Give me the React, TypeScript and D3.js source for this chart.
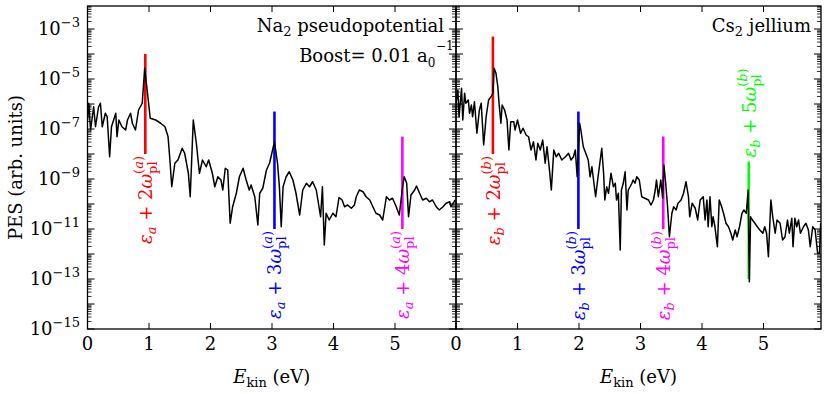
import React from 'react'
import * as d3 from 'd3'

// photoelectron spectra, kinetic energy (eV) and log10 of PES (arb. units)
const naEnergy = [
  0.00, 0.02, 0.05, 0.10, 0.13, 0.18, 0.21, 0.24, 0.29, 0.32, 0.36, 0.39, 0.46, 0.48, 0.51, 0.56,
  0.62, 0.65, 0.70, 0.73, 0.78, 0.83, 0.89, 0.93, 0.97, 1.02, 1.11, 1.19, 1.26, 1.31, 1.34, 1.37,
  1.42, 1.47, 1.54, 1.58, 1.64, 1.67, 1.72, 1.77, 1.82, 1.87, 1.93, 1.97, 2.03, 2.07, 2.12, 2.17,
  2.20, 2.24, 2.28, 2.32, 2.36, 2.42, 2.47, 2.53, 2.58, 2.63, 2.66, 2.72, 2.77, 2.80, 2.85, 2.91,
  2.96, 3.04, 3.09, 3.12, 3.15, 3.18, 3.23, 3.28, 3.34, 3.39, 3.45, 3.50, 3.56, 3.61, 3.66, 3.72,
  3.79, 3.82, 3.85, 3.88, 3.93, 3.99, 4.04, 4.09, 4.14, 4.18, 4.23, 4.29, 4.34, 4.37, 4.42, 4.48,
  4.53, 4.59, 4.64, 4.69, 4.75, 4.80, 4.86, 4.91, 4.96, 5.02, 5.07, 5.12, 5.15, 5.19, 5.22, 5.26,
  5.32, 5.35, 5.40, 5.45, 5.51, 5.56, 5.61, 5.67, 5.72, 5.78, 5.83, 5.89, 5.91, 5.98,
]
const naLogPes = [
  -6.64, -5.97, -7.04, -6.11, -6.91, -6.11, -5.97, -6.91, -6.37, -6.51, -8.11, -6.91, -6.37, -7.31, -6.64, -6.91,
  -7.04, -6.64, -6.37, -6.77, -7.04, -6.24, -5.97, -4.57, -5.44, -6.57, -6.64, -6.77, -6.91, -7.31, -8.24, -9.31,
  -8.37, -8.24, -7.77, -7.97, -8.77, -9.71, -6.64, -7.57, -8.77, -8.24, -8.51, -8.24, -8.77, -9.31, -8.91, -9.04,
  -9.44, -8.57, -8.64, -10.77, -10.11, -9.57, -8.91, -8.57, -9.04, -9.44, -9.24, -9.71, -10.84, -9.57, -9.37, -8.64,
  -8.37, -7.51, -8.37, -9.31, -10.91, -9.31, -8.91, -8.71, -9.04, -9.57, -10.44, -9.44, -9.17, -9.31, -9.11, -9.44,
  -10.51, -9.31, -11.64, -10.37, -10.64, -10.37, -10.51, -9.74, -9.84, -10.11, -10.04, -10.17, -10.04, -9.71, -9.44, -9.51,
  -9.71, -9.84, -10.11, -10.37, -10.44, -10.64, -9.71, -9.84, -9.77, -10.11, -10.44, -9.37, -8.91, -9.17, -10.51, -9.64,
  -9.44, -9.28, -9.57, -9.84, -9.77, -9.91, -9.84, -10.11, -10.24, -10.11, -9.97, -9.91, -10.11, -9.84,
]

const csEnergy = [
  0.00, 0.03, 0.05, 0.09, 0.11, 0.14, 0.16, 0.20, 0.22, 0.25, 0.27, 0.30, 0.34, 0.38, 0.41, 0.45,
  0.49, 0.53, 0.57, 0.60, 0.62, 0.65, 0.68, 0.70, 0.73, 0.75, 0.79, 0.83, 0.86, 0.89, 0.94, 0.96,
  1.00, 1.05, 1.09, 1.14, 1.18, 1.22, 1.26, 1.30, 1.33, 1.37, 1.41, 1.45, 1.48, 1.52, 1.55, 1.59,
  1.63, 1.67, 1.72, 1.78, 1.83, 1.87, 1.91, 1.94, 1.97, 2.01, 2.03, 2.07, 2.11, 2.15, 2.18, 2.21,
  2.23, 2.27, 2.31, 2.37, 2.40, 2.42, 2.45, 2.48, 2.52, 2.56, 2.59, 2.61, 2.64, 2.67, 2.69, 2.72,
  2.75, 2.78, 2.80, 2.83, 2.86, 2.88, 2.91, 2.94, 2.98, 3.02, 3.07, 3.13, 3.17, 3.21, 3.24, 3.26,
  3.29, 3.33, 3.36, 3.38, 3.41, 3.44, 3.47, 3.51, 3.54, 3.58, 3.61, 3.66, 3.70, 3.74, 3.78, 3.80,
  3.84, 3.89, 3.93, 3.97, 4.02, 4.05, 4.08, 4.10, 4.13, 4.16, 4.18, 4.21, 4.25, 4.28, 4.32, 4.35,
  4.39, 4.43, 4.47, 4.50, 4.54, 4.57, 4.61, 4.65, 4.68, 4.72, 4.75, 4.77, 4.79, 4.82, 4.86, 4.90,
  4.94, 4.99, 5.02, 5.05, 5.08, 5.12, 5.15, 5.19, 5.22, 5.27, 5.31, 5.35, 5.39, 5.42, 5.46, 5.48,
  5.51, 5.54, 5.57, 5.60, 5.65, 5.69, 5.73, 5.76, 5.80, 5.84, 5.88, 5.91, 5.93,
]
const csLogPes = [
  -5.97, -5.44, -6.51, -5.37, -6.64, -5.57, -5.97, -5.84, -6.37, -6.04, -6.51, -5.91, -7.17, -6.24, -5.97, -7.64,
  -6.51, -5.84, -5.71, -5.57, -4.57, -4.77, -5.31, -5.97, -6.77, -6.04, -6.24, -6.64, -7.84, -6.71, -6.71, -7.04,
  -6.64, -7.17, -6.97, -7.24, -7.31, -7.84, -7.51, -8.24, -7.57, -7.84, -7.44, -8.37, -7.71, -8.64, -9.44, -7.84,
  -8.11, -7.97, -8.24, -8.11, -7.97, -8.24, -8.11, -7.84, -8.91, -6.77, -7.04, -7.71, -7.97, -8.24, -8.91, -8.51,
  -8.91, -9.71, -8.91, -7.77, -8.77, -9.84, -9.31, -9.57, -8.77, -9.31, -9.17, -9.84, -9.57, -11.84, -9.44, -9.17,
  -8.71, -10.24, -9.44, -9.31, -9.17, -9.04, -9.17, -8.91, -9.04, -9.71, -9.77, -9.84, -10.04, -9.84, -9.44, -9.04,
  -9.71, -9.04, -9.77, -8.44, -9.17, -10.11, -11.31, -10.37, -10.11, -10.24, -9.97, -9.84, -9.57, -9.11, -9.71, -10.51,
  -9.97, -10.17, -10.64, -9.84, -9.71, -10.64, -9.84, -10.91, -9.71, -10.91, -10.51, -10.91, -11.71, -9.84, -10.11, -10.37,
  -10.77, -10.91, -11.17, -11.44, -11.04, -11.31, -10.91, -10.37, -10.24, -10.37, -9.44, -13.11, -10.51, -10.64, -10.77, -10.91,
  -11.04, -11.17, -10.91, -11.17, -12.11, -9.84, -10.51, -11.17, -10.64, -10.77, -11.44, -11.31, -10.64, -11.17, -10.57, -11.71,
  -10.57, -10.91, -10.64, -11.17, -10.91, -10.77, -11.04, -11.71, -10.91, -11.04, -11.97, -11.97, -10.77,
]

// plasmon harmonics eps + n*omega_pl: order, energy (eV), marker low / high PES
const naHarmonics = [2, 3, 4]
const naHarmonicEnergy = [0.94, 3.04, 5.12]
const naHarmonicLow = [1e-8, 1e-11, 1e-11]
const naHarmonicHigh = [1e-4, 5e-7, 5e-8]

const csHarmonics = [2, 3, 4, 5]
const csHarmonicEnergy = [0.6, 1.99, 3.37, 4.76]
const csHarmonicLow = [1e-8, 1e-11, 1e-11, 1e-13]
const csHarmonicHigh = [5e-4, 5e-7, 5e-8, 5e-9]

const xTicks = [0, 1, 2, 3, 4, 5]
const yLabelExponents = [-3, -5, -7, -9, -11, -13, -15]

const harmonicColor: Record<number, string> = { 2: '#ff0000', 3: '#0000ff', 4: '#ff00ff', 5: '#00ff00' }

const W = 830
const H = 394
const TOP = 6
const BOTTOM = 329
const FONT = 'DejaVu Serif'
const yTop = Math.pow(10, -15 + (BOTTOM - TOP) / 25)

const yScale = d3.scaleLog().domain([1e-15, yTop]).range([BOTTOM, TOP])

const majorY: number[] = d3.range(-15, -1).map(e => Math.pow(10, e)).filter(v => v <= yTop)
const minorY: number[] = []
d3.range(-15, -2).forEach(e => {
  for (let m = 2; m <= 9; m++) {
    const v = m * Math.pow(10, e)
    if (v <= yTop) minorY.push(v)
  }
})

function HarmonicLabel({ x, y, order, sym, color, above }:
  { x: number, y: number, order: number, sym: string, color: string, above: boolean }) {
  return (
    <g transform={`translate(${x + 7},${y}) rotate(-90)`}>
      <text fill={color} fontSize={18} fontFamily={FONT} textAnchor={above ? 'start' : 'end'} style={{ whiteSpace: 'pre' }}>
        <tspan fontStyle="italic">ε</tspan>
        <tspan fontStyle="italic" fontSize={13} dy={4}>{sym}</tspan>
        <tspan dy={-4}>{' + ' + order}</tspan>
        <tspan fontStyle="italic">ω</tspan>
        <tspan fontSize={13} dy={5}>pl</tspan>
        <tspan fontSize={13} dx={-12.5} dy={-14}>(<tspan fontStyle="italic">{sym}</tspan>)</tspan>
      </text>
    </g>
  )
}

function Panel({ x0, x1, xMax, energy, logPes, harmonics, hEnergy, hLow, hHigh, sym, id }:
  { x0: number, x1: number, xMax: number, energy: number[], logPes: number[], harmonics: number[],
    hEnergy: number[], hLow: number[], hHigh: number[], sym: string, id: string }) {
  const x = d3.scaleLinear().domain([0, xMax]).range([x0, x1])
  const pts: [number, number][] = energy.map((e, i) => [e, Math.pow(10, logPes[i])])
  const line = d3.line<[number, number]>().x(d => x(d[0])).y(d => yScale(d[1]))
  return (
    <g>
      <defs>
        <clipPath id={id}><rect x={x0} y={TOP} width={x1 - x0} height={BOTTOM - TOP} /></clipPath>
      </defs>
      {harmonics.map((n, i) => (
        <line key={'h' + n} x1={x(hEnergy[i])} x2={x(hEnergy[i])} y1={yScale(hLow[i])} y2={yScale(hHigh[i])}
          stroke={harmonicColor[n]} strokeWidth={2.6} />
      ))}
      {harmonics.map((n, i) => (
        <HarmonicLabel key={'l' + n} x={x(hEnergy[i])} order={n} sym={sym} color={harmonicColor[n]}
          above={n === 5} y={n === 5 ? yScale(hHigh[i]) - 4 : yScale(hLow[i]) + 2} />
      ))}
      <path d={line(pts) || ''} fill="none" stroke="#000" strokeWidth={1.5} strokeLinejoin="round" clipPath={`url(#${id})`} />
      {majorY.map(v => (
        <g key={'my' + v}>
          <line x1={x0} x2={x0 + 7} y1={yScale(v)} y2={yScale(v)} stroke="#000" strokeWidth={1} />
          <line x1={x1} x2={x1 - 7} y1={yScale(v)} y2={yScale(v)} stroke="#000" strokeWidth={1} />
        </g>
      ))}
      {minorY.map(v => (
        <g key={'ny' + v}>
          <line x1={x0} x2={x0 + 4} y1={yScale(v)} y2={yScale(v)} stroke="#000" strokeWidth={0.8} />
          <line x1={x1} x2={x1 - 4} y1={yScale(v)} y2={yScale(v)} stroke="#000" strokeWidth={0.8} />
        </g>
      ))}
      {xTicks.map(t => (
        <g key={'xt' + t}>
          <line x1={x(t)} x2={x(t)} y1={BOTTOM} y2={BOTTOM - 6} stroke="#000" strokeWidth={1} />
          <line x1={x(t)} x2={x(t)} y1={TOP} y2={TOP + 6} stroke="#000" strokeWidth={1} />
          <text x={x(t)} y={350} textAnchor="middle" fontSize={18} fontFamily={FONT}>{t}</text>
        </g>
      ))}
      <rect x={x0} y={TOP} width={x1 - x0} height={BOTTOM - TOP} fill="none" stroke="#000" strokeWidth={1.3} />
      <text x={(x0 + x1) / 2} y={383} textAnchor="middle" fontSize={18} fontFamily={FONT} style={{ whiteSpace: 'pre' }}>
        <tspan fontStyle="italic">E</tspan>
        <tspan fontSize={13} dy={4}>kin</tspan>
        <tspan dy={-4}>{' (eV)'}</tspan>
      </text>
    </g>
  )
}

export default function App() {
  return (
    <svg width={W} height={H} style={{ position: 'absolute', left: 0, top: 0, background: '#fff' }}>
      <rect width={W} height={H} fill="#fff" />
      <Panel id="clipNa" x0={87.5} x1={456} xMax={(456 - 87.5) / 61.5} energy={naEnergy} logPes={naLogPes}
        harmonics={naHarmonics} hEnergy={naHarmonicEnergy} hLow={naHarmonicLow} hHigh={naHarmonicHigh} sym="a" />
      <Panel id="clipCs" x0={456} x1={821} xMax={(821 - 456) / 61.5} energy={csEnergy} logPes={csLogPes}
        harmonics={csHarmonics} hEnergy={csHarmonicEnergy} hLow={csHarmonicLow} hHigh={csHarmonicHigh} sym="b" />
      {yLabelExponents.map(e => (
        <text key={'yl' + e} x={80} y={yScale(Math.pow(10, e)) + 6} textAnchor="end" fontSize={18} fontFamily={FONT}>
          10<tspan fontSize={13} dy={-8}>{'−' + (-e)}</tspan>
        </text>
      ))}
      <text transform={`translate(22,${(TOP + BOTTOM) / 2}) rotate(-90)`} textAnchor="middle" fontSize={18} fontFamily={FONT}>
        PES (arb. units)
      </text>
      <text x={444} y={32} textAnchor="end" fontSize={18} fontFamily={FONT} style={{ whiteSpace: 'pre' }}>
        Na<tspan fontSize={13} dy={4}>2</tspan><tspan dy={-4}>{' pseudopotential'}</tspan>
      </text>
      <text x={435.5} y={62} textAnchor="end" fontSize={18} fontFamily={FONT} style={{ whiteSpace: 'pre' }}>
        {'Boost= 0.01 a'}<tspan fontSize={12} dy={5}>0</tspan>
      </text>
      <text x={436} y={50} textAnchor="start" fontSize={12} fontFamily={FONT}>−1</text>
      <text x={811} y={32} textAnchor="end" fontSize={18} fontFamily={FONT} style={{ whiteSpace: 'pre' }}>
        Cs<tspan fontSize={13} dy={4}>2</tspan><tspan dy={-4}>{' jellium'}</tspan>
      </text>
    </svg>
  )
}
